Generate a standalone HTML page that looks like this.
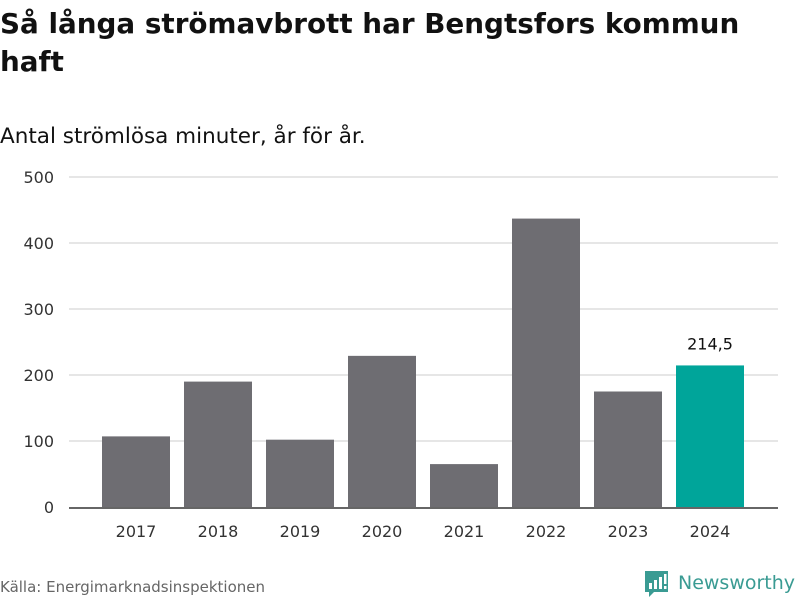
<!DOCTYPE html>
<html><head><meta charset="utf-8"><style>
body{margin:0;background:#fff;font-family:"DejaVu Sans","Liberation Sans",sans-serif;}
#wrap{position:relative;width:800px;height:600px;overflow:hidden;}
h1{position:absolute;left:0;top:5px;margin:0;font-size:27.8px;line-height:38px;font-weight:bold;color:#111;width:790px;}
.sub{position:absolute;left:0;top:124px;font-size:21.5px;color:#111;}
.src{position:absolute;left:0;top:578px;font-size:15px;color:#666;}
</style></head><body>
<div id="wrap">
<h1>Så långa strömavbrott har Bengtsfors kommun haft</h1>
<div class="sub">Antal strömlösa minuter, år för år.</div>
<svg id="chart" width="800" height="600" style="position:absolute;left:0;top:0"></svg>
<div class="src">Källa: Energimarknadsinspektionen</div>
<div style="position:absolute;left:645px;top:569px;">
<svg width="155" height="32">
<path d="M0 2 h23 v21 h-14 l-5 5 v-5 h-4z" fill="#3a9b93"/>
<rect x="4" y="14" width="3" height="6" fill="#fff"/><rect x="9" y="11" width="3" height="9" fill="#fff"/><rect x="14" y="8" width="3" height="12" fill="#fff"/><rect x="19" y="5" width="2.5" height="10" fill="#fff"/><rect x="19" y="17" width="2.5" height="3" fill="#fff"/>
<text x="33" y="20" font-size="19" textLength="117" lengthAdjust="spacingAndGlyphs" font-family="DejaVu Sans, Liberation Sans, sans-serif" fill="#3a9b93">Newsworthy</text>
</svg></div>
</div>
<script>
const categories=["2017","2018","2019","2020","2021","2022","2023","2024"];
const values=[107,190,102,229,65,437,175,214.5];
const yTicks=[0,100,200,300,400,500];
const highlightLabel="214,5";
const svg=document.getElementById('chart');
const NS='http://www.w3.org/2000/svg';
const x0=69,x1=778,yBase=507,yTop=177,yMax=500;
const y=v=>yBase-(v/yMax)*(yBase-yTop);
const step=82, firstCenter=136;
const bw=68;
function mk(t,a){const e=document.createElementNS(NS,t);for(const k in a)e.setAttribute(k,a[k]);svg.appendChild(e);return e;}
yTicks.forEach(t=>{
  if(t>0){const l=mk('line',{x1:x0,x2:x1,y1:y(t),y2:y(t),stroke:'#ddd','stroke-width':1.5});
  
  }
  const tx=mk('text',{x:54,y:y(t)+6,'text-anchor':'end','font-size':16,fill:'#333'});
  tx.textContent=t;
  
  
});
categories.forEach((c,i)=>{
  const cx=firstCenter+step*i;
  const last=i===categories.length-1;
  const r=mk('rect',{x:cx-bw/2,y:y(values[i]),width:bw,height:yBase-y(values[i]),fill:last?'#00a59a':'#6e6d72'});
  
  
  const t=mk('text',{x:cx,y:537,'text-anchor':'middle','font-size':16,fill:'#333'});
  t.textContent=c;
  
  
  if(last){const v=mk('text',{x:cx,y:y(values[i])-16,'text-anchor':'middle','font-size':16,fill:'#111'});
  v.textContent=highlightLabel;
  
  }
});
const ax=mk('line',{x1:x0,x2:x1,y1:yBase+1,y2:yBase+1,stroke:'#333','stroke-width':1.5});


</script>
</body></html>
